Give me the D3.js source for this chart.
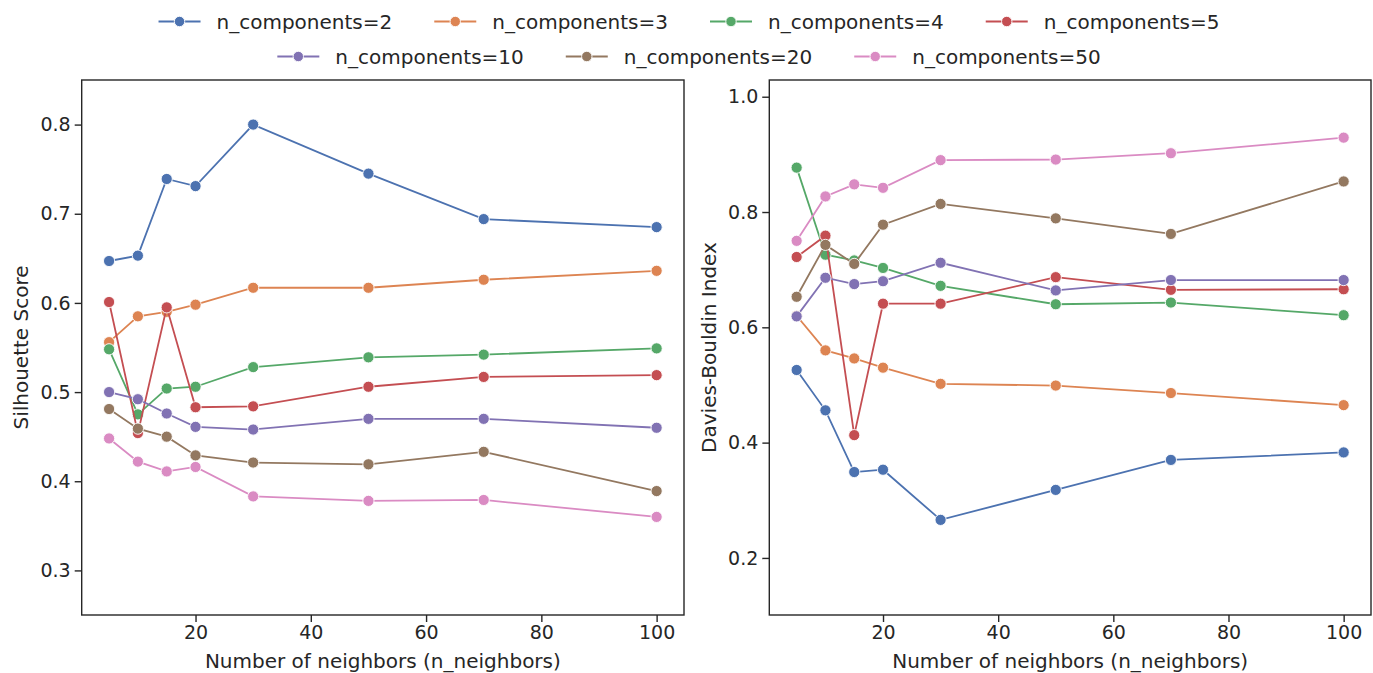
<!DOCTYPE html>
<html><head><meta charset="utf-8">
<script src="https://cdn.jsdelivr.net/npm/d3@7"></script>
<style>body{margin:0;background:#fff}svg{display:block}text{font-family:"DejaVu Sans",sans-serif;fill:#262626}</style>
</head><body>
<script>
const neighbors = [5, 10, 15, 20, 30, 50, 70, 100];
const seriesNames = ["n_components=2","n_components=3","n_components=4","n_components=5","n_components=10","n_components=20","n_components=50"];
const colors = ["#4c72b0","#dd8452","#55a868","#c44e52","#8172b3","#937860","#da8bc3"];
const silhouette = [
  [0.647, 0.653, 0.739, 0.731, 0.800, 0.745, 0.694, 0.685],
  [0.556, 0.585, 0.590, 0.598, 0.617, 0.617, 0.626, 0.636],
  [0.548, 0.475, 0.504, 0.506, 0.528, 0.539, 0.542, 0.549],
  [0.601, 0.454, 0.595, 0.483, 0.484, 0.506, 0.517, 0.519],
  [0.500, 0.492, 0.476, 0.461, 0.458, 0.470, 0.470, 0.460],
  [0.481, 0.459, 0.450, 0.429, 0.421, 0.419, 0.433, 0.389],
  [0.448, 0.422, 0.411, 0.416, 0.383, 0.378, 0.379, 0.360]
];
const daviesBouldin = [
  [0.526, 0.456, 0.349, 0.353, 0.266, 0.318, 0.370, 0.383],
  [0.620, 0.560, 0.546, 0.530, 0.502, 0.499, 0.486, 0.465],
  [0.877, 0.726, 0.716, 0.703, 0.672, 0.640, 0.643, 0.621],
  [0.722, 0.759, 0.413, 0.641, 0.641, 0.687, 0.665, 0.666],
  [0.619, 0.686, 0.675, 0.680, 0.712, 0.664, 0.682, 0.682],
  [0.653, 0.743, 0.710, 0.778, 0.814, 0.789, 0.762, 0.853],
  [0.750, 0.827, 0.848, 0.842, 0.890, 0.891, 0.902, 0.929]
];
const xTicks = [20, 40, 60, 80, 100];
const silTicks = [0.3, 0.4, 0.5, 0.6, 0.7, 0.8];
const dbTicks = [0.2, 0.4, 0.6, 0.8, 1.0];
const xLabel = "Number of neighbors (n_neighbors)";
const silLabel = "Silhouette Score";
const dbLabel = "Davies-Bouldin Index";

const W = 1373, H = 673;
const svg = d3.select("body").append("svg").attr("width", W).attr("height", H);
const INK = "#262626";

function panel(x0, x1, yDomain, yTicks, data, ylabel, ylabelX) {
  const top = 80, bottom = 615;
  const x = d3.scaleLinear().domain([0.25, 104.75]).range([x0, x1]);
  const y = d3.scaleLinear().domain(yDomain).range([bottom, top]);
  const g = svg.append("g");
  const lines = g.append("g");
  data.forEach((vals, i) => {
    const pts = neighbors.map((n, j) => [n, vals[j]]);
    lines.append("path").datum(pts)
      .attr("fill", "none").attr("stroke", colors[i]).attr("stroke-width", 1.8)
      .attr("d", d3.line().x(d => x(d[0])).y(d => y(d[1])));
    lines.selectAll(null).data(pts).enter().append("circle")
      .attr("cx", d => x(d[0])).attr("cy", d => y(d[1])).attr("r", 5.6)
      .attr("fill", colors[i]).attr("stroke", "#fff").attr("stroke-width", 0.9);
  });
  const xa = g.append("g").attr("transform", `translate(0,${bottom})`)
    .call(d3.axisBottom(x).tickValues(xTicks).tickFormat(d3.format("d")).tickSize(7).tickPadding(4));
  const ya = g.append("g").attr("transform", `translate(${x0},0)`)
    .call(d3.axisLeft(y).tickValues(yTicks).tickFormat(d3.format(".1f")).tickSize(7).tickPadding(4));
  [xa, ya].forEach(a => {
    a.select(".domain").remove();
    a.selectAll("line").attr("stroke", INK).attr("stroke-width", 1.4);
    a.selectAll("text").style("font-size", "19px").attr("fill", INK);
  });
  g.append("rect").attr("x", x0).attr("y", top).attr("width", x1 - x0).attr("height", bottom - top)
    .attr("fill", "none").attr("stroke", INK).attr("stroke-width", 1.4);
  g.append("text").attr("x", (x0 + x1) / 2).attr("y", 668).attr("text-anchor", "middle")
    .style("font-size", "20px").text(xLabel);
  g.append("text").attr("transform", `translate(${ylabelX},${(top + bottom) / 2}) rotate(-90)`)
    .attr("text-anchor", "middle").style("font-size", "20px").text(ylabel);
}

panel(81.7, 684, [0.25, 0.85], silTicks, silhouette, silLabel, 28);
panel(769.3, 1371, [0.101, 1.029], dbTicks, daviesBouldin, dbLabel, 716);

// legend
const rows = [[0, 1, 2, 3], [4, 5, 6]];
const rowY = [21.5, 56.5];
const handleLen = 42, handleGap = 16, colGap = 42, centerX = 689;
rows.forEach((row, r) => {
  const lg = svg.append("g");
  let cx = 0;
  row.forEach(i => {
    const item = lg.append("g").attr("transform", `translate(${cx},0)`);
    item.append("line").attr("x1", 0).attr("x2", handleLen).attr("y1", 0).attr("y2", 0)
      .attr("stroke", colors[i]).attr("stroke-width", 1.8);
    item.append("circle").attr("cx", handleLen / 2).attr("cy", 0).attr("r", 5.2)
      .attr("fill", colors[i]).attr("stroke", "#fff").attr("stroke-width", 0.9);
    const t = item.append("text").attr("x", handleLen + handleGap).attr("y", 0).attr("dy", "0.35em")
      .style("font-size", "20px").text(seriesNames[i]);
    cx += handleLen + handleGap + t.node().getComputedTextLength() + colGap;
  });
  const total = cx - colGap;
  lg.attr("transform", `translate(${centerX - total / 2},${rowY[r]})`);
});
</script>
</body></html>
